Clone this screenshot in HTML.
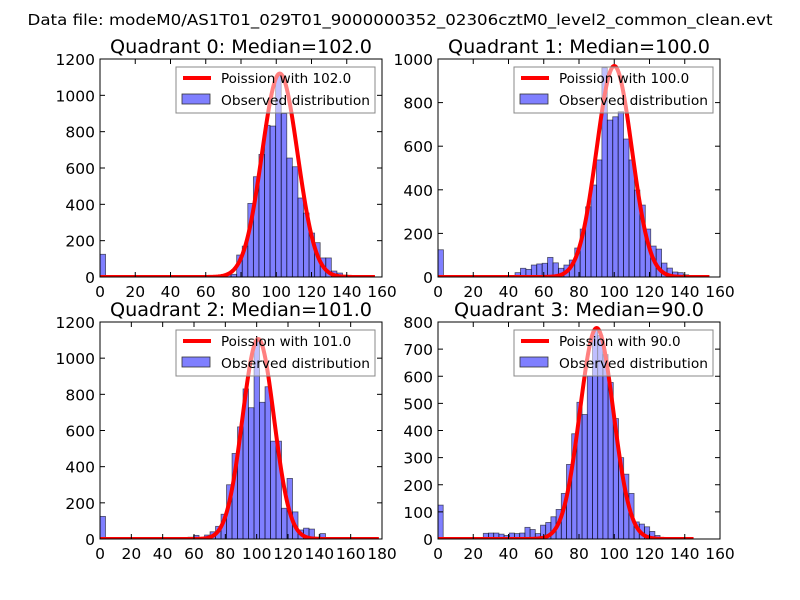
<!DOCTYPE html>
<html><head><meta charset="utf-8"><style>
body{margin:0;background:#fff}
svg{display:block;font-family:"DejaVu Sans","Liberation Sans",sans-serif}
</style></head><body>
<svg id="fig" width="800" height="600" viewBox="0 0 800 600">
<rect width="800" height="600" fill="#fff"/>
<text x="400" y="25" font-size="15" text-anchor="middle" textLength="745" lengthAdjust="spacingAndGlyphs">Data file: modeM0/AS1T01_029T01_9000000352_02306cztM0_level2_common_clean.evt</text>
</svg>
<script>
// Quadrant 0
const q0Counts=[8,8,12,15,121,170,405,552,675,835,831,1110,900,655,607,435,352,242,189,105,105,33,22,10,5];
const q0Start=64.9, q0Width=3.16, q0Zero=125, q0Mean=102.0, q0Peak=1120;
const q0XTicks=[0,20,40,60,80,100,120,140,160];
const q0YTicks=[0,200,400,600,800,1000,1200];
// Quadrant 1
const q1Counts=[20,40,35,55,60,63,90,65,40,55,78,133,220,322,422,537,960,720,735,758,633,537,399,330,220,142,128,64,41,23,20,10,5];
const q1Start=43.7, q1Width=3.08, q1Zero=125, q1Mean=100.0, q1Peak=968;
const q1XTicks=[0,20,40,60,80,100,120,140,160];
const q1YTicks=[0,200,400,600,800,1000];
// Quadrant 2
const q2Counts=[10,20,5,22,40,70,137,300,473,620,830,726,1100,756,842,541,541,170,335,150,50,60,55,10,30];
const q2Start=56.2, q2Width=3.51, q2Zero=125, q2Mean=101.0, q2Peak=1106;
const q2XTicks=[0,20,40,60,80,100,120,140,160,180];
const q2YTicks=[0,200,400,600,800,1000,1200];
// Quadrant 3
const q3Counts=[21,22,22,18,13,22,20,22,43,35,20,51,61,82,109,168,275,388,504,459,600,770,750,680,577,444,300,239,168,63,55,45,28,13,6];
const q3Start=25.7, q3Width=2.95, q3Zero=125, q3Mean=90.0, q3Peak=778;
const q3XTicks=[0,20,40,60,80,100,120,140,160];
const q3YTicks=[0,100,200,300,400,500,600,700,800];

const NS="http://www.w3.org/2000/svg";
const svg=document.getElementById('fig');
function mk(tag,attrs,parent){const e=document.createElementNS(NS,tag);for(const k in attrs)e.setAttribute(k,attrs[k]);(parent||svg).appendChild(e);return e;}

function panel(idx,L,T,W,H,xmax,ymax,xticks,yticks,counts,start,width,zero,mean,peak,curveEnd,title){
  const g=mk('g',{});
  
  
  const X=v=>L+v/xmax*W, Y=v=>T+H-v/ymax*H;
  const t=mk('text',{x:L+W/2,y:T-6,'font-size':19,'text-anchor':'middle',textLength:title.length>23?262:250,lengthAdjust:'spacingAndGlyphs'},g);
  t.textContent=title;
  
  
  const clip=mk('clipPath',{id:'c'+idx},g);mk('rect',{x:L,y:T,width:W,height:H},clip);
  const bars=mk('g',{'clip-path':'url(#c'+idx+')'},g);
  const allB=[[0,zero]].concat(counts.map((c,i)=>[start+i*width,c]));
  allB.forEach(([x0,c],i)=>{
    const r=mk('rect',{x:X(x0),y:Y(c),width:X(x0+width)-X(x0),height:Y(0)-Y(c),fill:'rgba(0,0,255,0.5)',stroke:'#000','stroke-opacity':0.6,'stroke-width':0.8},bars);
    
    
  });
  let d='';const sd=Math.sqrt(mean);
  for(let x=0;x<=curveEnd;x+=0.5){const v=peak*Math.exp(-((x-mean)**2)/(2*sd*sd));d+=(x?'L':'M')+X(x).toFixed(2)+','+Y(v).toFixed(2);}
  const p=mk('path',{d:d,fill:'none',stroke:'#f00','stroke-width':4,'stroke-linejoin':'round'},bars);
  
  
  mk('rect',{x:L,y:T,width:W,height:H,fill:'none',stroke:'#000','stroke-width':1},g);
  xticks.forEach(v=>{
    mk('line',{x1:X(v),x2:X(v),y1:T+H,y2:T+H-5,stroke:'#000'},g);
    mk('line',{x1:X(v),x2:X(v),y1:T,y2:T+5,stroke:'#000'},g);
    const tt=mk('text',{x:X(v),y:T+H+20,'font-size':15.5,'text-anchor':'middle'},g);tt.textContent=v;
    
    
  });
  yticks.forEach(v=>{
    mk('line',{x1:L,x2:L+5,y1:Y(v),y2:Y(v),stroke:'#000'},g);
    mk('line',{x1:L+W,x2:L+W-5,y1:Y(v),y2:Y(v),stroke:'#000'},g);
    const tt=mk('text',{x:L-5,y:Y(v)+6,'font-size':15.5,'text-anchor':'end'},g);tt.textContent=v;
    
    
  });
  const lg=mk('g',{},g);
  
  
  const lx=L+W-206, ly=T+8;
  mk('rect',{x:lx,y:ly,width:199,height:46,fill:'rgba(255,255,255,0.5)',stroke:'#888'},lg);
  mk('line',{x1:lx+7,x2:lx+35,y1:ly+11,y2:ly+11,stroke:'#f00','stroke-width':4},lg);
  const t1=mk('text',{x:lx+45,y:ly+16,'font-size':13.5},lg);t1.textContent='Poission with '+mean.toFixed(1);
  
  
  mk('rect',{x:lx+6,y:ly+27,width:28,height:10,fill:'rgba(0,0,255,0.5)',stroke:'#333','stroke-width':0.8},lg);
  const t2=mk('text',{x:lx+45,y:ly+38,'font-size':13.5,textLength:149,lengthAdjust:'spacingAndGlyphs'},lg);t2.textContent='Observed distribution';
  
  
}
panel(0,100,59,282,218,160,1200,q0XTicks,q0YTicks,q0Counts,q0Start,q0Width,q0Zero,q0Mean,q0Peak,156,'Quadrant 0: Median=102.0');
panel(1,438,59,282,218,160,1000,q1XTicks,q1YTicks,q1Counts,q1Start,q1Width,q1Zero,q1Mean,q1Peak,154,'Quadrant 1: Median=100.0');
panel(2,100,322,282,217,180,1200,q2XTicks,q2YTicks,q2Counts,q2Start,q2Width,q2Zero,q2Mean,q2Peak,178,'Quadrant 2: Median=101.0');
panel(3,438,322,282,217,160,800,q3XTicks,q3YTicks,q3Counts,q3Start,q3Width,q3Zero,q3Mean,q3Peak,145,'Quadrant 3: Median=90.0');
</script>
</body></html>
